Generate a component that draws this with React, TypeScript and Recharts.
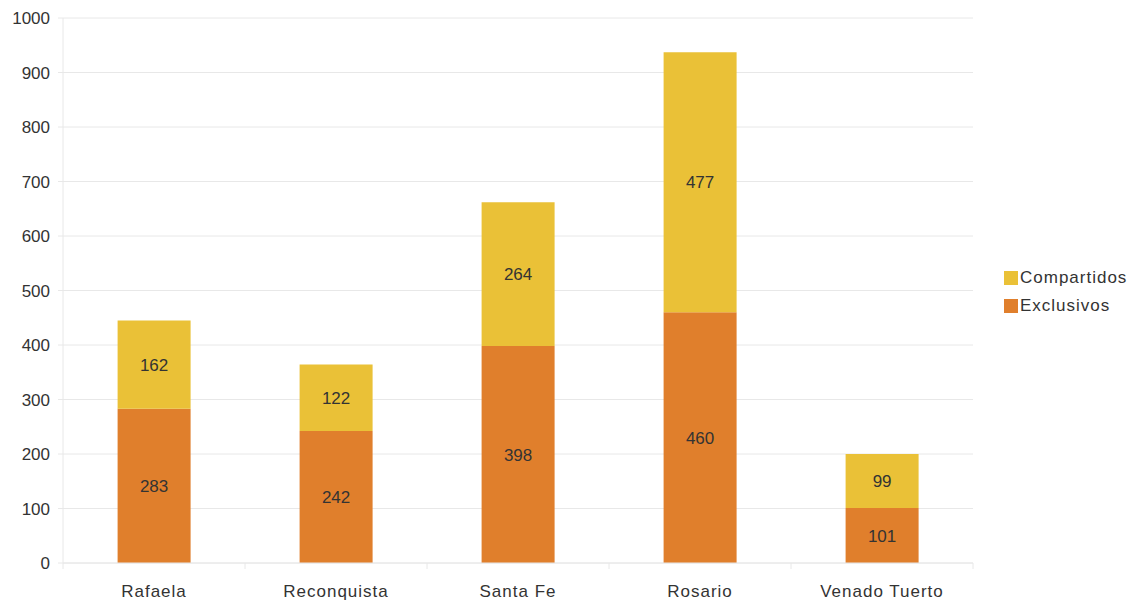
import { Bar, BarChart, CartesianGrid, LabelList, XAxis, YAxis } from "recharts";

const cities = ["Rafaela", "Reconquista", "Santa Fe", "Rosario", "Venado Tuerto"];
const exclusivos = [283, 242, 398, 460, 101];
const compartidos = [162, 122, 264, 477, 99];
const yTicks = [0, 100, 200, 300, 400, 500, 600, 700, 800, 900, 1000];

const ORANGE = "#e07f2c";
const YELLOW = "#eac137";
const GRID = "#e8e8e8";
const TEXT = "#333333";
const FONT = "'Liberation Sans', Arial, sans-serif";

const data = cities.map((city, i) => ({
  city,
  exclusivos: exclusivos[i],
  compartidos: compartidos[i],
}));

// category labels plus the separator ticks between categories
function CityTick(props: any) {
  const { x, y, payload, index } = props;
  const half = 91;
  return (
    <g>
      <line x1={x - half} y1={y - 8} x2={x - half} y2={y - 2} stroke={GRID} />
      {index === cities.length - 1 && (
        <line x1={x + half} y1={y - 8} x2={x + half} y2={y - 2} stroke={GRID} />
      )}
      <text
        x={x}
        y={y + 26}
        textAnchor="middle"
        fill={TEXT}
        fontSize={17}
        letterSpacing={1}
        fontFamily={FONT}
      >
        {payload.value}
      </text>
    </g>
  );
}

function LegendBox() {
  const items = [
    { name: "Compartidos", color: YELLOW },
    { name: "Exclusivos", color: ORANGE },
  ];
  return (
    <div
      style={{
        position: "absolute",
        left: 1004,
        top: 264,
        fontFamily: FONT,
        fontSize: 17,
        color: TEXT,
      }}
    >
      {items.map((it) => (
        <div key={it.name} style={{ display: "flex", alignItems: "center", height: 28 }}>
          <span style={{ width: 14, height: 14, background: it.color, marginRight: 2 }} />
          <span style={{ letterSpacing: 1 }}>{it.name}</span>
        </div>
      ))}
    </div>
  );
}

export default function App() {
  return (
    <div style={{ position: "absolute", left: 0, top: 0, width: 1137, height: 604, background: "#fff" }}>
      <BarChart
        width={1137}
        height={604}
        data={data}
        margin={{ top: 18, right: 164, bottom: 0, left: 8 }}
        barCategoryGap="30%"
      >
        <CartesianGrid stroke={GRID} vertical={false} />
        <XAxis
          dataKey="city"
          height={41}
          axisLine={{ stroke: GRID }}
          tickLine={false}
          tick={<CityTick />}
          interval={0}
        />
        <YAxis
          width={55}
          domain={[0, 1000]}
          ticks={yTicks}
          axisLine={{ stroke: GRID }}
          tickLine={{ stroke: GRID }}
          tickSize={5}
          tickMargin={8}
          tick={{ fill: TEXT, fontSize: 17, fontFamily: FONT }}
        />
        <Bar dataKey="exclusivos" stackId="a" fill={ORANGE} isAnimationActive={false}>
          <LabelList dataKey="exclusivos" position="center" fill={TEXT} fontSize={17} fontFamily={FONT} />
        </Bar>
        <Bar dataKey="compartidos" stackId="a" fill={YELLOW} isAnimationActive={false}>
          <LabelList dataKey="compartidos" position="center" fill={TEXT} fontSize={17} fontFamily={FONT} />
        </Bar>
      </BarChart>
      <LegendBox />
    </div>
  );
}
